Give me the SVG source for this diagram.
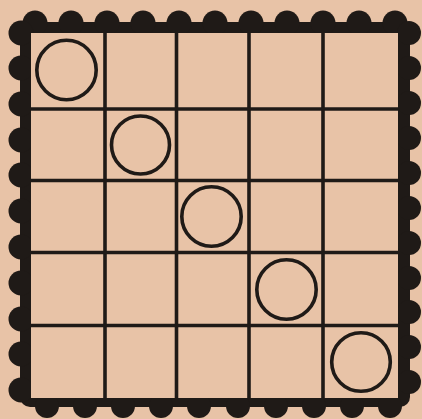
<svg xmlns="http://www.w3.org/2000/svg" width="422" height="419" viewBox="0 0 422 419">
<style>
.ink{fill:#1f1a17}
.b{fill:#1f1a17}
.g{stroke:#1f1a17;stroke-width:3.6;fill:none;stroke-linecap:butt}
.c{stroke:#1f1a17;stroke-width:3.6;fill:none}
</style>
<rect width="422" height="419" fill="#e8c3a7"/>
<g id="frame">
<rect class="ink" x="20" y="22" width="390" height="385" rx="10"/>
<g id="bumps-top">
<circle class="b" cx="35" cy="23" r="12.5"/><circle class="b" cx="71" cy="23" r="12.5"/><circle class="b" cx="107" cy="23" r="12.5"/><circle class="b" cx="143" cy="23" r="12.5"/><circle class="b" cx="179" cy="23" r="12.5"/><circle class="b" cx="215" cy="23" r="12.5"/><circle class="b" cx="251" cy="23" r="12.5"/><circle class="b" cx="287" cy="23" r="12.5"/><circle class="b" cx="323" cy="23" r="12.5"/><circle class="b" cx="359" cy="23" r="12.5"/><circle class="b" cx="395" cy="23" r="12.5"/>
</g>
<g id="bumps-bottom">
<circle class="b" cx="47" cy="406" r="12"/><circle class="b" cx="85" cy="406" r="12"/><circle class="b" cx="123" cy="406" r="12"/><circle class="b" cx="161" cy="406" r="12"/><circle class="b" cx="199" cy="406" r="12"/><circle class="b" cx="238" cy="406" r="12"/><circle class="b" cx="276" cy="406" r="12"/><circle class="b" cx="314" cy="406" r="12"/><circle class="b" cx="352" cy="406" r="12"/><circle class="b" cx="390" cy="406" r="12"/>
</g>
<g id="bumps-left">
<circle class="b" cx="21" cy="33" r="12.5"/><circle class="b" cx="21" cy="68" r="12.5"/><circle class="b" cx="21" cy="104" r="12.5"/><circle class="b" cx="21" cy="140" r="12.5"/><circle class="b" cx="21" cy="175" r="12.5"/><circle class="b" cx="21" cy="211" r="12.5"/><circle class="b" cx="21" cy="247" r="12.5"/><circle class="b" cx="21" cy="283" r="12.5"/><circle class="b" cx="21" cy="319" r="12.5"/><circle class="b" cx="21" cy="354" r="12.5"/><circle class="b" cx="21" cy="390" r="12.5"/>
</g>
<g id="bumps-right">
<circle class="b" cx="409" cy="33" r="12"/><circle class="b" cx="409" cy="68" r="12"/><circle class="b" cx="409" cy="103" r="12"/><circle class="b" cx="409" cy="138" r="12"/><circle class="b" cx="409" cy="173" r="12"/><circle class="b" cx="409" cy="208" r="12"/><circle class="b" cx="409" cy="243" r="12"/><circle class="b" cx="409" cy="278" r="12"/><circle class="b" cx="409" cy="312" r="12"/><circle class="b" cx="409" cy="347" r="12"/><circle class="b" cx="409" cy="382" r="12"/>
</g>
<rect x="31" y="33" width="367" height="365" fill="#e8c3a7"/>
</g>
<g id="grid">
<line class="g" x1="105" y1="33" x2="105" y2="398"/>
<line class="g" x1="176.5" y1="33" x2="176.5" y2="398"/>
<line class="g" x1="249" y1="33" x2="249" y2="398"/>
<line class="g" x1="323" y1="33" x2="323" y2="398"/>
<line class="g" x1="31" y1="109" x2="398" y2="109"/>
<line class="g" x1="31" y1="180.5" x2="398" y2="180.5"/>
<line class="g" x1="31" y1="252.5" x2="398" y2="252.5"/>
<line class="g" x1="31" y1="325.5" x2="398" y2="325.5"/>
</g>
<g id="circles">
<circle id="c1" class="c" cx="66.5" cy="70" r="29.7"/>
<circle id="c2" class="c" cx="140.5" cy="145" r="29"/>
<circle id="c3" class="c" cx="211.5" cy="216.5" r="29.7"/>
<circle id="c4" class="c" cx="286.5" cy="289.5" r="29.7"/>
<circle id="c5" class="c" cx="361" cy="362" r="29.3"/>
</g>
</svg>
